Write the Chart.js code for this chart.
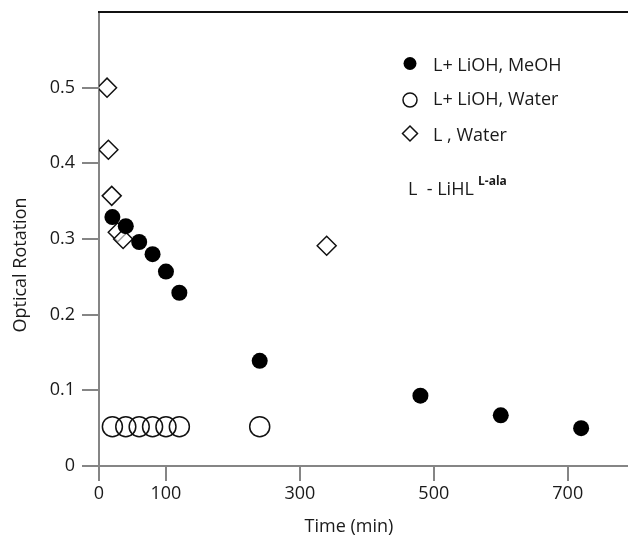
<!DOCTYPE html>
<html>
<head>
<meta charset="utf-8">
<script src="https://cdn.jsdelivr.net/npm/chart.js@4.4.0/dist/chart.umd.min.js"></script>
<style>
  html, body { margin: 0; padding: 0; background: #fff; }
</style>
</head>
<body>
<canvas id="chart" width="628" height="540"></canvas>
<script>
const SERIES_LABELS = ['L+ LiOH, MeOH', 'L+ LiOH, Water', 'L , Water'];

const MEOH_TIME = [20, 40, 60, 80, 100, 120, 240, 480, 600, 720];
const MEOH_ROT = [0.329, 0.317, 0.296, 0.280, 0.257, 0.229, 0.139, 0.093, 0.067, 0.050];

const WATER_TIME = [20, 40, 60, 80, 100, 120, 240];
const WATER_ROT = [0.052, 0.052, 0.052, 0.052, 0.052, 0.052, 0.052];

const LWATER_TIME = [12, 14, 19, 28, 36, 340];
const LWATER_ROT = [0.500, 0.418, 0.357, 0.309, 0.300, 0.291];

const X_TICKS = [0, 100, 300, 500, 700];
const Y_TICKS = [0, 0.1, 0.2, 0.3, 0.4, 0.5];

const FONT = '"Open Sans", "Noto Sans", sans-serif';
const TEXT = '#1a1a1a';
const AXIS = '#858585';

function points(xs, ys) {
    return xs.map((x, i) => ({ x, y: ys[i] }));
}

// top frame line, legend, note and axis titles
const decorations = {
    id: 'decorations',
    afterDraw(chart) {
        const ctx = chart.ctx;
        const area = chart.chartArea;
        ctx.save();

        ctx.strokeStyle = '#111';
        ctx.lineWidth = 2;
        ctx.beginPath();
        ctx.moveTo(area.left - 1, area.top);
        ctx.lineTo(area.right, area.top);
        ctx.stroke();

        ctx.fillStyle = TEXT;
        ctx.font = '18px ' + FONT;
        ctx.textBaseline = 'alphabetic';
        const rows = [70.5, 104.5, 140.5];
        const marks = [63.5, 100, 133.5];
        SERIES_LABELS.forEach((label, i) => {
            const mx = 410, my = marks[i];
            ctx.lineWidth = 1.5;
            ctx.strokeStyle = '#111';
            ctx.beginPath();
            if (i === 0) {
                ctx.arc(mx, my, 6.5, 0, Math.PI * 2);
                ctx.fillStyle = '#000';
                ctx.fill();
            } else if (i === 1) {
                ctx.arc(mx, my, 7, 0, Math.PI * 2);
                ctx.stroke();
            } else {
                ctx.moveTo(mx - 7.5, my);
                ctx.lineTo(mx, my - 7.5);
                ctx.lineTo(mx + 7.5, my);
                ctx.lineTo(mx, my + 7.5);
                ctx.closePath();
                ctx.stroke();
            }
            ctx.fillStyle = TEXT;
            ctx.textAlign = 'left';
            ctx.fillText(label, 433, rows[i]);
        });

        ctx.fillText('L  - LiHL', 408, 195);
        ctx.font = 'bold 12px ' + FONT;
        ctx.fillText('L-ala', 478, 185);

        ctx.font = '18px ' + FONT;
        ctx.textAlign = 'center';
        ctx.textBaseline = 'middle';
        ctx.fillText('Time (min)', 349, 527);

        ctx.translate(21, 265);
        ctx.rotate(-Math.PI / 2);
        ctx.fillText('Optical Rotation', 0, 0);
        ctx.restore();
    }
};

new Chart(document.getElementById('chart'), {
    type: 'scatter',
    data: {
        datasets: [
            {
                label: SERIES_LABELS[0],
                data: points(MEOH_TIME, MEOH_ROT),
                pointStyle: 'circle',
                pointRadius: 8,
                backgroundColor: '#000',
                borderColor: '#000',
                borderWidth: 0,
            },
            {
                label: SERIES_LABELS[1],
                data: points(WATER_TIME, WATER_ROT),
                pointStyle: 'circle',
                pointRadius: 10,
                backgroundColor: 'rgba(0,0,0,0)',
                borderColor: '#111',
                borderWidth: 1.5,
            },
            {
                label: SERIES_LABELS[2],
                data: points(LWATER_TIME, LWATER_ROT),
                pointStyle: 'rectRot',
                pointRadius: 9.5,
                backgroundColor: 'rgba(255,255,255,0.6)',
                borderColor: '#111',
                borderWidth: 1.5,
            },
        ],
    },
    options: {
        responsive: false,
        animation: false,
        devicePixelRatio: 1,
        layout: { autoPadding: false, padding: { top: 12, right: 0, bottom: 0, left: 0 } },
        scales: {
            x: {
                type: 'linear',
                min: 0,
                max: 790,
                afterBuildTicks: scale => { scale.ticks = X_TICKS.map(v => ({ value: v })); },
                afterFit: scale => {
                    scale.height = 74;
                    scale.paddingLeft = 0;
                    scale.paddingRight = 0;
                },
                ticks: { color: TEXT, font: { family: FONT, size: 18 }, padding: 2, maxRotation: 0 },
                grid: { drawOnChartArea: false, drawTicks: true, tickLength: 15, color: AXIS, lineWidth: 2 },
                border: { color: AXIS, width: 2 },
            },
            y: {
                min: 0,
                max: 0.6,
                afterBuildTicks: scale => { scale.ticks = Y_TICKS.map(v => ({ value: v })); },
                afterFit: scale => {
                    scale.width = 99;
                    scale.paddingTop = 0;
                    scale.paddingBottom = 0;
                },
                ticks: {
                    color: TEXT,
                    font: { family: FONT, size: 18 },
                    padding: 7,
                    callback: v => v === 0 ? '0' : v.toFixed(1),
                },
                grid: { drawOnChartArea: false, drawTicks: true, tickLength: 17, color: AXIS, lineWidth: 2 },
                border: { color: AXIS, width: 2 },
            },
        },
        plugins: {
            legend: { display: false },
            tooltip: { enabled: false },
        },
    },
    plugins: [decorations],
});
</script>
</body>
</html>
